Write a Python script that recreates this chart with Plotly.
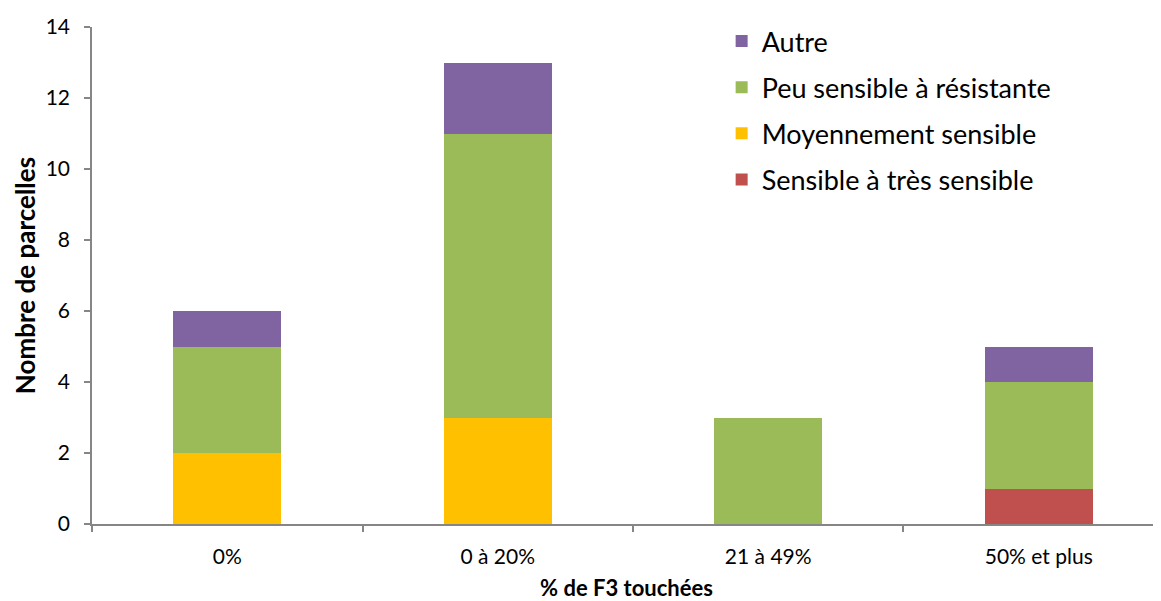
import plotly.graph_objects as go

categories = ["0%", "0 à 20%", "21 à 49%", "50% et plus"]
series_names = ["Sensible à très sensible", "Moyennement sensible", "Peu sensible à résistante", "Autre"]
sensible = [0, 0, 0, 1]
moyen = [2, 3, 0, 0]
peu = [3, 8, 3, 3]
autre = [1, 2, 0, 1]
colors = ["#C0504D", "#FFC000", "#9BBB59", "#8064A2"]

FONT = "Lato, 'Open Sans', sans-serif"
xpos = list(range(len(categories)))

fig = go.Figure()
for i, (name, vals) in enumerate(zip(series_names, [sensible, moyen, peu, autre])):
    fig.add_trace(go.Bar(
        x=xpos, y=vals, name=name, legendgroup=f"g{i}", legendrank=10 - i,
        marker=dict(color=colors[i], line=dict(width=0)),
    ))

fig.update_layout(
    barmode="stack",
    bargap=0.6,
    width=1161, height=601,
    margin=dict(l=84, r=8, t=19, b=85),
    paper_bgcolor="white", plot_bgcolor="white",
    font=dict(family=FONT, color="#000000"),
    legend=dict(
        x=0.589, y=1.02, xanchor="left", yanchor="top",
        traceorder="grouped", tracegroupgap=8,
        font=dict(size=27, family=FONT, color="#000000"),
        itemwidth=30, bgcolor="rgba(0,0,0,0)",
    ),
    xaxis=dict(
        range=[-0.5, 3.452], automargin=False,
        tickvals=xpos, ticktext=categories,
        ticks="", showline=True, linecolor="#868686", linewidth=1.5,
        tickfont=dict(size=21, family=FONT), ticklabelstandoff=13,
        minor=dict(tick0=-0.5, dtick=1, ticks="outside", ticklen=6, tickcolor="#868686", tickwidth=1.5, showgrid=False),
        showgrid=False, zeroline=False,
        title=dict(text="<b>% de F3 touchées</b>", font=dict(size=22, family=FONT), standoff=14),
    ),
    yaxis=dict(
        range=[0, 14], dtick=2, tick0=0, automargin=False,
        ticks="outside", ticklen=6, tickcolor="#868686", tickwidth=1.5,
        showline=True, linecolor="#868686", linewidth=1.5,
        tickfont=dict(size=21, family=FONT), ticklabelstandoff=10,
        showgrid=False, zeroline=False,
        title=dict(text="<b>Nombre de parcelles</b>", font=dict(size=26, family=FONT), standoff=3),
    ),
)

fig.write_html("out.html")
